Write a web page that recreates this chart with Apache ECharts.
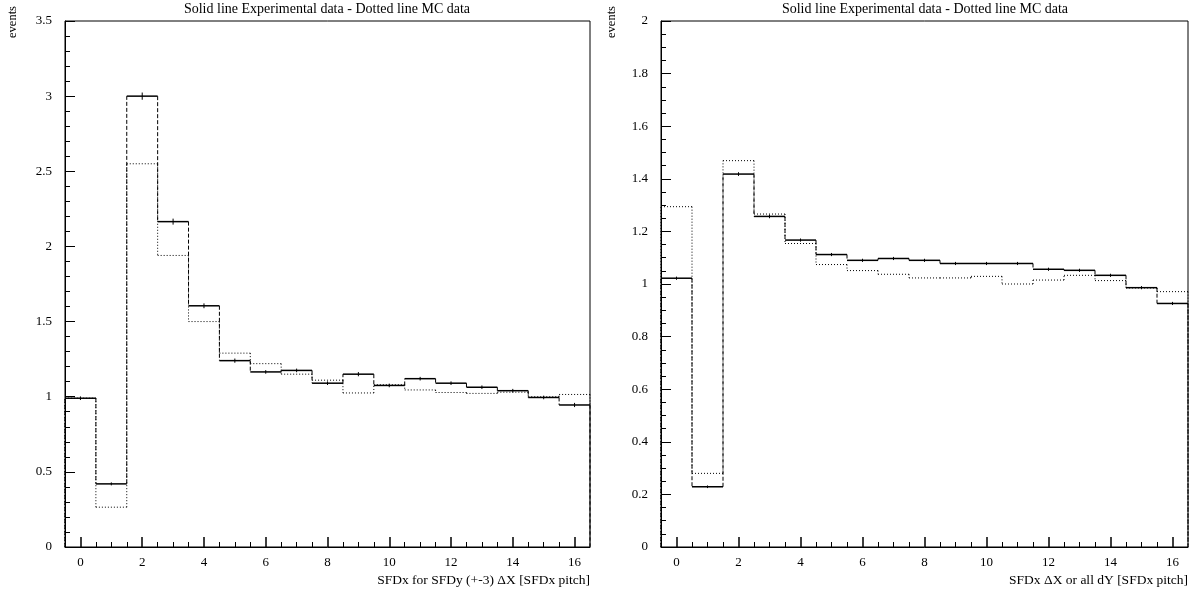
<!DOCTYPE html>
<html><head><meta charset="utf-8">
<script src="https://cdn.jsdelivr.net/npm/echarts@6/dist/echarts.min.js"></script>
<style>html,body{margin:0;padding:0;background:#fff}#c{width:1203px;height:590px}</style>
</head><body><div id="c"></div>
<script>
// ---- data ----
const bins = [0,1,2,3,4,5,6,7,8,9,10,11,12,13,14,15,16];
const leftExp    = [0.99,0.42,3.00,2.165,1.605,1.24,1.165,1.175,1.09,1.15,1.075,1.12,1.09,1.063,1.04,0.995,0.945];
const leftExpErr = [0.012,0.01,0.024,0.02,0.016,0.014,0.012,0.012,0.012,0.014,0.012,0.012,0.012,0.012,0.012,0.012,0.014];
const leftMC     = [0.99,0.265,2.55,1.94,1.50,1.29,1.22,1.15,1.11,1.025,1.08,1.045,1.028,1.022,1.03,1.0,1.015];
const rightExp    = [1.022,0.229,1.418,1.257,1.167,1.112,1.090,1.097,1.090,1.078,1.078,1.078,1.056,1.052,1.033,0.986,0.926];
const rightExpErr = [0.006,0.005,0.007,0.007,0.006,0.006,0.006,0.006,0.006,0.006,0.006,0.006,0.006,0.006,0.006,0.006,0.006];
const rightMC     = [1.294,0.280,1.469,1.266,1.154,1.074,1.051,1.037,1.023,1.023,1.029,1.000,1.015,1.033,1.013,0.985,0.971];
const xMajorTicks = [0,2,4,6,8,10,12,14,16];
const xMinorTicks = [0.5,1,1.5,2.5,3,3.5,4.5,5,5.5,6.5,7,7.5,8.5,9,9.5,10.5,11,11.5,12.5,13,13.5,14.5,15,15.5];
const leftYMinor  = [0.1,0.2,0.3,0.4,0.6,0.7,0.8,0.9,1.1,1.2,1.3,1.4,1.6,1.7,1.8,1.9,2.1,2.2,2.3,2.4,2.6,2.7,2.8,2.9,3.1,3.2,3.3,3.4];
const rightYMinor = [0.05,0.1,0.15,0.25,0.3,0.35,0.45,0.5,0.55,0.65,0.7,0.75,0.85,0.9,0.95,1.05,1.1,1.15,1.25,1.3,1.35,1.45,1.5,1.55,1.65,1.7,1.75,1.85,1.9,1.95];
const titleText = 'Solid line Experimental data - Dotted line MC data';
const yName = 'events';
const leftXName = 'SFDx for SFDy (+-3) \u0394X [SFDx pitch]';
const rightXName = 'SFDx \u0394X or all dY [SFDx pitch]';

const FONT = '"Liberation Serif", "DejaVu Serif", serif';
const chart = echarts.init(document.getElementById('c'), null, {renderer: 'canvas'});

function histRender(isMC, vals, errs) {
  return function (params, api) {
    const k = params.dataIndex;
    const x = api.value(0), v = api.value(1);
    const prev = k > 0 ? vals[k - 1] : 0;
    const lo = api.coord([x - 0.5, v]);
    const hi = api.coord([x + 0.5, v]);
    const pv = api.coord([x - 0.5, prev]);
    const ch = [];
    ch.push({type: 'line', shape: {x1: pv[0], y1: pv[1], x2: lo[0], y2: lo[1]},
      style: {stroke: '#000', lineWidth: 1, lineDash: isMC ? [1, 2] : [4, 2]}});
    ch.push({type: 'line', shape: {x1: lo[0], y1: lo[1], x2: hi[0], y2: hi[1]},
      style: {stroke: '#000', lineWidth: isMC ? 1 : 1.5, lineDash: isMC ? [1, 2] : null}});
    if (k === vals.length - 1) {
      const z = api.coord([x + 0.5, 0]);
      ch.push({type: 'line', shape: {x1: hi[0], y1: hi[1], x2: z[0], y2: z[1]},
        style: {stroke: '#000', lineWidth: 1, lineDash: isMC ? [1, 2] : [4, 2]}});
    }
    if (errs) {
      const a = api.coord([x, v - errs[k]]), b = api.coord([x, v + errs[k]]);
      ch.push({type: 'line', shape: {x1: a[0], y1: a[1], x2: b[0], y2: b[1]},
        style: {stroke: '#000', lineWidth: 1}});
    }
    return {type: 'group', children: ch};
  };
}

function xAxes(gi) {
  const base = {type: 'value', gridIndex: gi, min: -0.5, max: 16.5, position: 'bottom', offset: 0, splitLine: {show: false}};
  return [
    Object.assign({}, base, {
      axisLine: {show: true, onZero: false, lineStyle: {color: '#000', width: 1}},
      axisTick: {show: true, inside: true, length: 10, customValues: xMajorTicks, lineStyle: {color: '#000', width: 1.5}},
      axisLabel: {show: true, customValues: xMajorTicks, margin: 9, color: '#000', fontFamily: FONT, fontSize: 13}
    }),
    Object.assign({}, base, {
      axisLine: {show: false, onZero: false},
      axisTick: {show: true, inside: true, length: 5, customValues: xMinorTicks, lineStyle: {color: '#000', width: 1}},
      axisLabel: {show: false}
    })
  ];
}

function yAxes(gi, max, interval, minor) {
  const base = {type: 'value', gridIndex: gi, min: 0, max: max, position: 'left', offset: 0, splitLine: {show: false}};
  return [
    Object.assign({}, base, {
      interval: interval,
      axisLine: {show: true, onZero: false, lineStyle: {color: '#000', width: 1}},
      axisTick: {show: true, inside: true, length: 10, lineStyle: {color: '#000', width: 1}},
      axisLabel: {show: true, margin: 13, color: '#000', fontFamily: FONT, fontSize: 13}
    }),
    Object.assign({}, base, {
      axisLine: {show: false, onZero: false},
      axisTick: {show: true, inside: true, length: 5, customValues: minor, lineStyle: {color: '#000', width: 1}},
      axisLabel: {show: false}
    })
  ];
}

const toData = vals => bins.map((b, k) => [b, vals[k]]);

function txt(x, y, text, align, size, rotation) {
  return {type: 'text', x: x, y: y, rotation: rotation || 0,
    style: {text: text, fill: '#000', font: size + 'px ' + FONT, align: align, verticalAlign: 'middle'}};
}

chart.setOption({
  backgroundColor: '#fff',
  animation: false,
  grid: [
    {left: 65, right: 613, top: 21, bottom: 43, show: true, borderColor: '#000', borderWidth: 1, containLabel: false},
    {left: 661, right: 15, top: 21, bottom: 43, show: true, borderColor: '#000', borderWidth: 1, containLabel: false}
  ],
  xAxis: xAxes(0).concat(xAxes(1)),
  yAxis: yAxes(0, 3.5, 0.5, leftYMinor).concat(yAxes(1, 2, 0.2, rightYMinor)),
  series: [
    {type: 'custom', xAxisIndex: 0, yAxisIndex: 0, clip: false, renderItem: histRender(true, leftMC, null), data: toData(leftMC)},
    {type: 'custom', xAxisIndex: 0, yAxisIndex: 0, clip: false, renderItem: histRender(false, leftExp, leftExpErr), data: toData(leftExp)},
    {type: 'custom', xAxisIndex: 2, yAxisIndex: 2, clip: false, renderItem: histRender(true, rightMC, null), data: toData(rightMC)},
    {type: 'custom', xAxisIndex: 2, yAxisIndex: 2, clip: false, renderItem: histRender(false, rightExp, rightExpErr), data: toData(rightExp)}
  ],
  graphic: [
    txt(327, 9, titleText, 'center', 14),
    txt(925, 9, titleText, 'center', 14),
    txt(13, 22, yName, 'center', 12.5, Math.PI / 2),
    txt(612, 22, yName, 'center', 12.5, Math.PI / 2),
    txt(590, 580, leftXName, 'right', 13.5),
    txt(1188, 580, rightXName, 'right', 13.5)
  ]
});
</script>
</body></html>
